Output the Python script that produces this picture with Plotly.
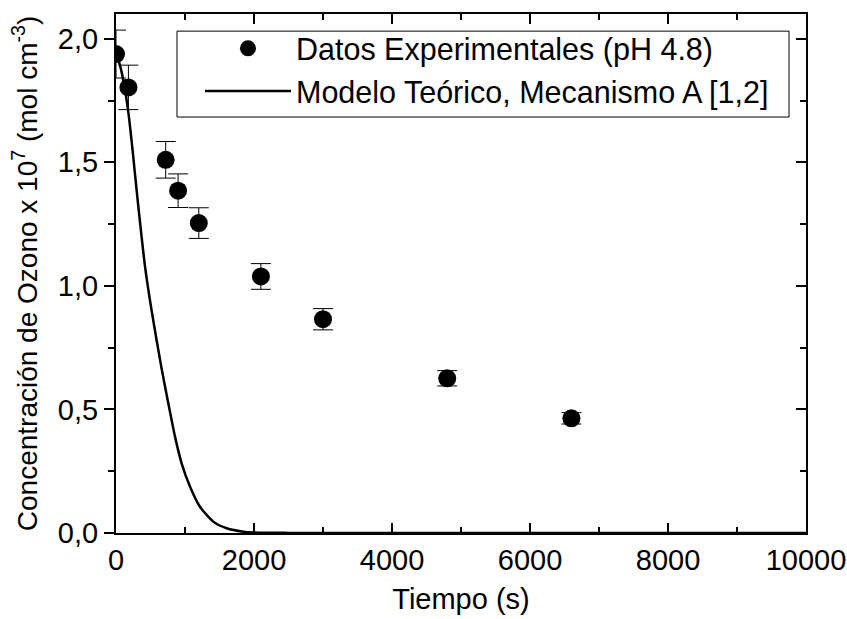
import plotly.graph_objects as go

# Experimental data
t_exp = [0, 180, 720, 900, 1200, 2100, 3000, 4800, 6600]
c_exp = [1.938, 1.803, 1.510, 1.385, 1.254, 1.038, 0.865, 0.626, 0.464]
err_exp = [0.097, 0.090, 0.074, 0.068, 0.062, 0.052, 0.043, 0.031, 0.023]

# Theoretical model curve
t_mod = [0, 60, 120, 180, 240, 305, 420, 516, 661, 758, 855, 951, 1072,
         1217, 1410, 1604, 1845, 2000, 2500, 3000, 10000]
c_mod = [1.94, 1.89, 1.81, 1.70, 1.55, 1.37, 1.08, 0.90, 0.665, 0.525,
         0.39, 0.282, 0.188, 0.106, 0.046, 0.019, 0.005, 0.002, 0.0005,
         0.0, 0.0]

x_ticks = [0, 2000, 4000, 6000, 8000, 10000]
y_ticks = [0.0, 0.5, 1.0, 1.5, 2.0]

FONT = "Liberation Sans, Arial, sans-serif"

fig = go.Figure()
fig.add_trace(go.Scatter(
    x=t_exp, y=c_exp, mode="markers",
    name="Datos Experimentales (pH 4.8)",
    marker=dict(color="black", size=18, symbol="circle"),
    error_y=dict(type="data", array=err_exp, visible=True,
                 color="black", thickness=1, width=10),
))
fig.add_trace(go.Scatter(
    x=t_mod, y=c_mod, mode="lines",
    name="Modelo Teórico, Mecanismo A [1,2]",
    line=dict(color="black", width=2.5, shape="spline", smoothing=0.6),
))
# invisible trace to carry the right-side axis
fig.add_trace(go.Scatter(x=[None], y=[None], yaxis="y2", showlegend=False,
                         hoverinfo="skip"))

# legend frame
fig.add_shape(type="rect", xref="paper", yref="paper",
              x0=0.0884, x1=0.9754, y0=0.8015, y1=0.967,
              line=dict(color="black", width=1), fillcolor="rgba(0,0,0,0)",
              layer="above")

fig.update_layout(
    width=847, height=619,
    margin=dict(l=116, r=41, t=14, b=86, autoexpand=False),
    paper_bgcolor="white", plot_bgcolor="white",
    separators=",.",
    font=dict(family=FONT, size=28, color="black"),
    showlegend=True,
    legend=dict(
        x=0.1217, y=0.9846, xanchor="left", yanchor="top",
        borderwidth=0, bgcolor="rgba(0,0,0,0)",
        font=dict(family=FONT, size=30.5, color="black"),
        itemwidth=86, tracegroupgap=0,
    ),
    xaxis=dict(
        range=[0, 10000], tickvals=x_ticks, tickformat="d",
        showline=True, linecolor="black", linewidth=2, mirror="ticks",
        ticks="inside", ticklen=10, tickwidth=2, tickcolor="black",
        minor=dict(dtick=1000, ticks="inside", ticklen=6, tickwidth=2,
                   tickcolor="black"),
        showgrid=False, zeroline=False, automargin=False,
        title=dict(text="Tiempo (s)", font=dict(size=29), standoff=14),
        tickfont=dict(size=29),
    ),
    yaxis=dict(
        range=[0, 2.1], tickvals=y_ticks, tickformat=".1f",
        showline=True, linecolor="black", linewidth=2,
        ticks="outside", ticklen=10, tickwidth=2, tickcolor="black",
        minor=dict(dtick=0.25, ticks="outside", ticklen=6, tickwidth=2,
                   tickcolor="black"),
        showgrid=False, zeroline=False, automargin=False,
        title=dict(text="Concentración de Ozono x 10<sup>7</sup> (mol cm<sup>-3</sup>)",
                   font=dict(size=28), standoff=12),
        tickfont=dict(size=29),
    ),
    yaxis2=dict(
        range=[0, 2.1], overlaying="y", side="right", tickvals=y_ticks,
        showticklabels=False,
        showline=True, linecolor="black", linewidth=2,
        ticks="inside", ticklen=10, tickwidth=2, tickcolor="black",
        minor=dict(dtick=0.25, ticks="inside", ticklen=6, tickwidth=2,
                   tickcolor="black"),
        showgrid=False, zeroline=False, automargin=False,
    ),
)

fig.write_html("out.html")
